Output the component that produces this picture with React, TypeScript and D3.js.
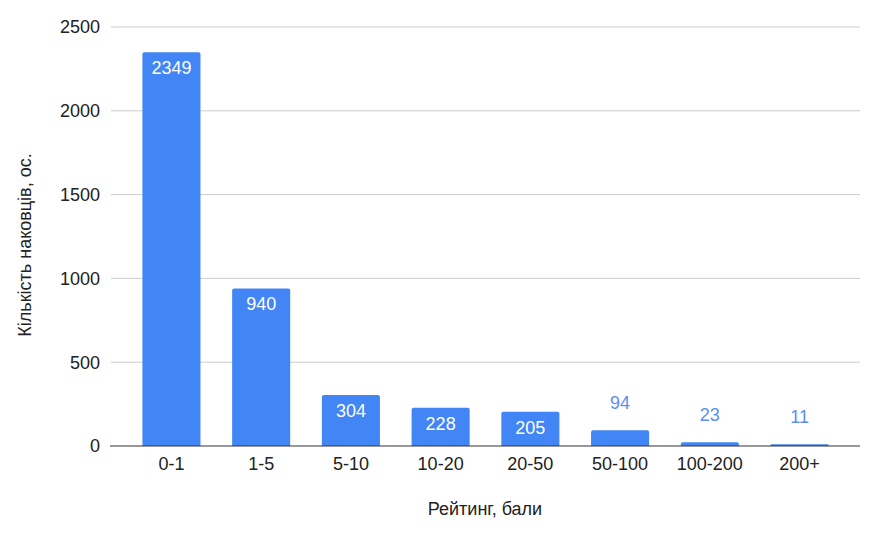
import { useEffect, useRef } from 'react';
import * as d3 from 'd3';

const categories = ['0-1', '1-5', '5-10', '10-20', '20-50', '50-100', '100-200', '200+'];
const counts = [2349, 940, 304, 228, 205, 94, 23, 11];
const yTicks = [0, 500, 1000, 1500, 2000, 2500];

const yTitle = 'Кількість наковців, ос.';
const xTitle = 'Рейтинг, бали';

export default function App() {
    const ref = useRef<SVGSVGElement>(null);

    useEffect(() => {
        if (!ref.current) return;
        const svg = d3.select(ref.current);
        svg.selectAll('*').remove();

        const width = 875;
        const height = 533;
        const left = 111;
        const right = 860;
        const top = 27;
        const bottom = 446;
        const font = '"Liberation Sans", Arial, sans-serif';
        const barColor = '#4285f4';

        const x = d3.scaleBand<string>()
            .domain(categories)
            .range([left, right])
            .paddingInner(0.353)
            .paddingOuter(0.35);

        const y = d3.scaleLinear()
            .domain([0, 2500])
            .range([bottom, top]);

        svg.attr('width', width).attr('height', height);

        // Gridlines + tick labels
        const grid = svg.append('g');
        yTicks.forEach(t => {
            if (t > 0) {
                grid.append('line')
                    .attr('x1', left).attr('x2', right)
                    .attr('y1', y(t)).attr('y2', y(t))
                    .attr('stroke', '#cccccc')
                    .attr('stroke-width', 1);
            }
            grid.append('text')
                .attr('x', 100)
                .attr('y', y(t))
                .attr('dy', '0.36em')
                .attr('text-anchor', 'end')
                .attr('font-family', font)
                .attr('font-size', '18px')
                .attr('fill', '#222')
                .text(t);
        });

        // Bars
        const r = 2;
        const barPath = (x0: number, w: number, y0: number, y1: number) => {
            const h = y1 - y0;
            const rr = Math.min(r, h / 2, w / 2);
            return `M${x0},${y1}V${y0 + rr}Q${x0},${y0} ${x0 + rr},${y0}H${x0 + w - rr}Q${x0 + w},${y0} ${x0 + w},${y0 + rr}V${y1}Z`;
        };

        const data = categories.map((c, i) => ({ c, v: counts[i] }));

        svg.append('g')
            .selectAll('path')
            .data(data)
            .enter()
            .append('path')
            .attr('d', d => barPath(x(d.c)!, x.bandwidth(), y(d.v), bottom))
            .attr('fill', barColor);

        // Value labels
        svg.append('g')
            .selectAll('text')
            .data(data)
            .enter()
            .append('text')
            .attr('x', d => x(d.c)! + x.bandwidth() / 2)
            .attr('y', d => {
                const inside = bottom - y(d.v) > 28;
                return inside ? y(d.v) + 22 : y(d.v) - 21;
            })
            .attr('text-anchor', 'middle')
            .attr('font-family', font)
            .attr('font-size', '18px')
            .attr('fill', d => (bottom - y(d.v) > 28 ? '#ffffff' : '#5a8ff2'))
            .text(d => d.v);

        // Baseline
        svg.append('line')
            .attr('x1', left - 1).attr('x2', right)
            .attr('y1', bottom).attr('y2', bottom)
            .attr('stroke', '#333333')
            .attr('stroke-width', 1);

        // X tick labels
        svg.append('g')
            .selectAll('text')
            .data(categories)
            .enter()
            .append('text')
            .attr('x', d => x(d)! + x.bandwidth() / 2)
            .attr('y', 470)
            .attr('text-anchor', 'middle')
            .attr('font-family', font)
            .attr('font-size', '18px')
            .attr('fill', '#222')
            .text(d => d);

        // Axis titles
        svg.append('text')
            .attr('x', 485)
            .attr('y', 515)
            .attr('text-anchor', 'middle')
            .attr('font-family', font)
            .attr('font-size', '18px')
            .attr('fill', '#222')
            .text(xTitle);

        svg.append('text')
            .attr('transform', `translate(31, 245) rotate(-90)`)
            .attr('text-anchor', 'middle')
            .attr('font-family', font)
            .attr('font-size', '18px')
            .attr('fill', '#222')
            .text(yTitle);
    }, []);

    return (
        <div style={{ position: 'absolute', left: 0, top: 0 }}>
            <svg ref={ref} style={{ display: 'block' }} />
        </div>
    );
}
